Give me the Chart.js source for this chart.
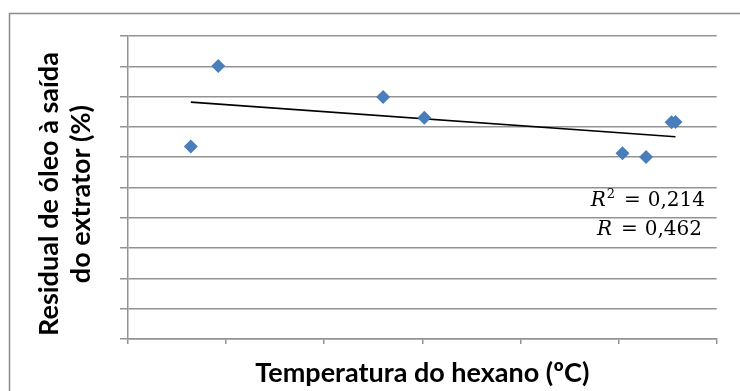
<!DOCTYPE html>
<html>
<head>
<meta charset="utf-8">
<script src="https://cdn.jsdelivr.net/npm/chart.js@4.4.1/dist/chart.umd.min.js"></script>
<style>
  html, body { margin: 0; padding: 0; background: #ffffff; }
  #wrap { position: relative; width: 740px; height: 391px; }
  canvas { display: block; }
</style>
</head>
<body>
<div id="wrap"><canvas id="chart" width="740" height="391"></canvas></div>
<script>
// Hexane temperature (ºC) and residual oil leaving the extractor (%)
const temperatures = [43.2, 44.6, 53.0, 55.1, 65.2, 66.4, 67.7, 67.9];
const residualOil  = [0.635, 0.901, 0.799, 0.730, 0.613, 0.601, 0.715, 0.716];

// Axis ranges (tick labels are hidden, only marks and grid are shown)
const xRange = { min: 40, max: 70, step: 5 };
const yRange = { min: 0, max: 1, step: 0.1 };

// Statistics printed beside the trend line
const statLines = [
  { sym: 'R', sup: '2', value: '0,214' },
  { sym: 'R', sup: '',  value: '0,462' }
];

// Least-squares line through the measured points
function linearFit(xs, ys) {
  const n = xs.length;
  const mx = xs.reduce((a, b) => a + b, 0) / n;
  const my = ys.reduce((a, b) => a + b, 0) / n;
  let sxy = 0, sxx = 0;
  for (let i = 0; i < n; i++) {
    sxy += (xs[i] - mx) * (ys[i] - my);
    sxx += (xs[i] - mx) * (xs[i] - mx);
  }
  const slope = sxy / sxx;
  return { slope, intercept: my - slope * mx };
}

const fit = linearFit(temperatures, residualOil);
const xLo = Math.min(...temperatures);
const xHi = Math.max(...temperatures);
const trendPoints = [
  { x: xLo, y: fit.intercept + fit.slope * xLo },
  { x: xHi, y: fit.intercept + fit.slope * xHi }
];
const scatterPoints = temperatures.map((t, i) => ({ x: t, y: residualOil[i] }));

const GRID = '#939393';

// Frame around the whole chart object
const framePlugin = {
  id: 'frame',
  beforeDraw(chart) {
    const ctx = chart.ctx;
    ctx.save();
    ctx.fillStyle = '#ffffff';
    ctx.fillRect(0, 0, chart.width, chart.height);
    ctx.strokeStyle = '#8c8c8c';
    ctx.lineWidth = 1.5;
    ctx.strokeRect(9.5, 13.5, 900, 600);
    ctx.restore();
  }
};

// R² / R text box, right-aligned
const statsPlugin = {
  id: 'stats',
  afterDraw(chart) {
    const ctx = chart.ctx;
    const rights = [705, 702];
    const baselines = [206, 234.5];
    const mainFont = '20px "DejaVu Serif"';
    const symFont = 'italic 20px "DejaVu Serif"';
    const supFont = '13px "DejaVu Serif"';
    ctx.save();
    ctx.fillStyle = '#000000';
    ctx.textBaseline = 'alphabetic';
    ctx.textAlign = 'left';
    statLines.forEach((ln, i) => {
      ctx.font = symFont;
      const wSym = ctx.measureText(ln.sym).width;
      ctx.font = supFont;
      const wSup = ln.sup ? ctx.measureText(ln.sup).width + 1 : 0;
      ctx.font = mainFont;
      const wEq = ctx.measureText('=').width;
      const wVal = ctx.measureText(ln.value).width;
      const gap1 = 9, gap2 = 7;
      const total = wSym + wSup + gap1 + wEq + gap2 + wVal;
      let x = rights[i] - total;
      const y = baselines[i];
      ctx.font = symFont;
      ctx.fillText(ln.sym, x, y);
      x += wSym;
      if (ln.sup) {
        ctx.font = supFont;
        ctx.fillText(ln.sup, x + 1, y - 8);
        x += wSup;
      }
      x += gap1;
      ctx.font = mainFont;
      ctx.fillText('=', x, y);
      x += wEq + gap2;
      ctx.fillText(ln.value, x, y);
    });
    ctx.restore();
  }
};

new Chart(document.getElementById('chart'), {
  type: 'scatter',
  data: {
    datasets: [
      {
        label: 'Linear',
        type: 'line',
        data: trendPoints,
        borderColor: '#000000',
        borderWidth: 1.6,
        pointRadius: 0,
        fill: false,
        order: 2
      },
      {
        label: 'Residual',
        data: scatterPoints,
        pointStyle: 'rectRot',
        pointRadius: 7,
        pointHoverRadius: 7,
        backgroundColor: '#4A7EBB',
        borderColor: '#4A7EBB',
        borderWidth: 0,
        order: 1
      }
    ]
  },
  options: {
    responsive: false,
    animation: false,
    devicePixelRatio: 1,
    layout: { padding: { left: 0, top: 36, right: 23.3, bottom: 0 } },
    plugins: {
      legend: { display: false },
      tooltip: { enabled: false }
    },
    scales: {
      x: {
        type: 'linear',
        min: xRange.min,
        max: xRange.max,
        ticks: { display: false, stepSize: xRange.step },
        grid: {
          drawOnChartArea: false,
          drawTicks: true,
          tickLength: 5,
          color: GRID,
          lineWidth: 1.5
        },
        border: { display: true, color: GRID, width: 1.5 },
        title: {
          display: true,
          text: 'Temperatura do hexano (ºC)',
          color: '#000000',
          font: { family: 'Lato', weight: 'bold', size: 27, lineHeight: 1 },
          padding: { top: 0, bottom: 4 }
        },
        afterFit(scale) { scale.height = 52; }
      },
      y: {
        type: 'linear',
        min: yRange.min,
        max: yRange.max,
        ticks: { display: false, stepSize: yRange.step },
        grid: {
          drawOnChartArea: true,
          drawTicks: true,
          tickLength: 8,
          color: GRID,
          lineWidth: 1.5
        },
        border: { display: true, color: GRID, width: 1.5 },
        title: {
          display: true,
          // trailing spaces nudge the rotated lines slightly downward
          text: ['Residual de óleo à saída  ', 'do extrator (%)  '],
          color: '#000000',
          font: { family: 'Lato', weight: 'bold', size: 27, lineHeight: 1.185 },
          padding: { top: 33, bottom: 0 }
        },
        afterFit(scale) { scale.width = 128; }
      }
    }
  },
  plugins: [framePlugin, statsPlugin]
});
</script>
</body>
</html>
